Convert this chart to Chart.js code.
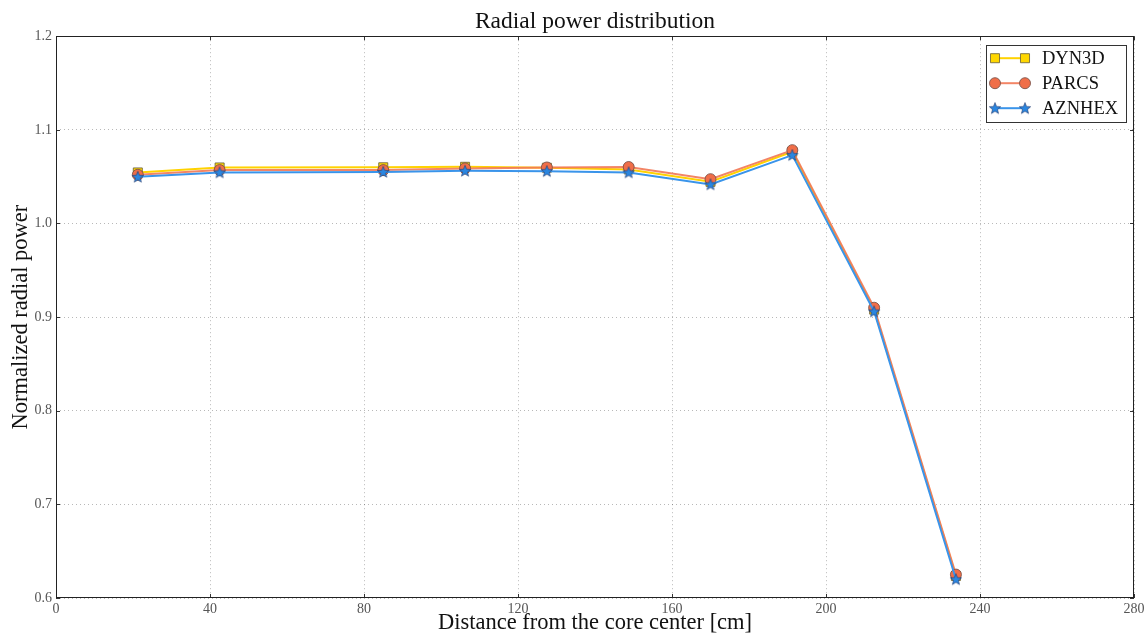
<!DOCTYPE html>
<html>
<head>
<meta charset="utf-8">
<script src="https://cdn.jsdelivr.net/npm/chart.js@4/dist/chart.umd.min.js"></script>
<style>
  html, body { margin: 0; padding: 0; background: #fff; }
  #wrap { width: 1145px; height: 634px; }
</style>
</head>
<body>
<div id="wrap"><canvas id="c" width="1145" height="634"></canvas></div>
<script>
// ---- data ----
const distances = [21.25, 42.5, 85, 106.25, 127.5, 148.75, 170, 191.25, 212.5, 233.75];
const dyn3d  = [1.0545, 1.0598, 1.0600, 1.0605, 1.0595, 1.0577, 1.0445, 1.0765, 0.908, 0.6235];
const parcs  = [1.0520, 1.0570, 1.0570, 1.0588, 1.0598, 1.0603, 1.0473, 1.0783, 0.910, 0.625];
const aznhex = [1.0498, 1.0545, 1.0550, 1.0562, 1.0559, 1.0545, 1.0417, 1.0730, 0.906, 0.620];
const seriesNames = ['DYN3D', 'PARCS', 'AZNHEX'];
const xTicks = [0, 40, 80, 120, 160, 200, 240, 280];
const yTicks = [0.6, 0.7, 0.8, 0.9, 1.0, 1.1, 1.2];

const SERIF = '"Liberation Serif", "DejaVu Serif", serif';

function makeStar(fill, edge) {
  const c = document.createElement('canvas');
  c.width = 14; c.height = 14;
  const g = c.getContext('2d');
  g.beginPath();
  const R = 6, r = 2.6, cx = 7, cy = 7.4;
  for (let i = 0; i < 10; i++) {
    const rad = (i % 2 === 0) ? R : r;
    const a = -Math.PI / 2 + i * Math.PI / 5;
    const px = cx + rad * Math.cos(a), py = cy + rad * Math.sin(a);
    if (i === 0) g.moveTo(px, py); else g.lineTo(px, py);
  }
  g.closePath();
  g.fillStyle = fill; g.fill();
  g.lineWidth = 0.8; g.strokeStyle = edge; g.stroke();
  return c;
}
const starImg = makeStar('#2A86E0', 'rgba(40,60,110,0.8)');

const styles = [
  { line: '#FFD200', fill: '#FFD700', edge: 'rgba(110,100,60,0.85)', point: 'rect', radius: 6.4 },
  { line: 'rgba(242,120,85,0.9)', fill: '#F06E48', edge: 'rgba(120,80,70,0.85)', point: 'circle', radius: 5.5 },
  { line: '#3A94EA', fill: '#2A86E0', edge: 'rgba(40,60,110,0.8)', point: starImg, radius: 6 }
];
const values = [dyn3d, parcs, aznhex];

const datasets = values.map((vals, i) => ({
  label: seriesNames[i],
  data: distances.map((x, k) => ({ x: x, y: vals[k] })),
  borderColor: styles[i].line,
  borderWidth: 2,
  backgroundColor: styles[i].fill,
  pointBackgroundColor: styles[i].fill,
  pointBorderColor: styles[i].edge,
  pointBorderWidth: 1,
  pointStyle: styles[i].point,
  pointRadius: styles[i].radius,
  pointHoverRadius: styles[i].radius,
  tension: 0,
  order: 3 - i
}));

function drawMarker(ctx, st, x, y) {
  if (st.point instanceof HTMLCanvasElement) {
    ctx.drawImage(st.point, x - st.point.width / 2, y - st.point.height / 2);
    return;
  }
  ctx.save();
  ctx.fillStyle = st.fill; ctx.strokeStyle = st.edge; ctx.lineWidth = 1;
  ctx.beginPath();
  if (st.point === 'rect') {
    const s = Math.SQRT1_2 * st.radius;
    ctx.rect(x - s, y - s, 2 * s, 2 * s);
  } else {
    ctx.arc(x, y, st.radius, 0, Math.PI * 2);
  }
  ctx.fill(); ctx.stroke();
  ctx.restore();
}

const framePlugin = {
  id: 'frame',
  afterDraw(chart) {
    const { ctx, chartArea: a, scales } = chart;
    ctx.save();
    // inward ticks
    ctx.strokeStyle = '#333'; ctx.lineWidth = 1;
    xTicks.forEach(v => {
      const px = Math.round(scales.x.getPixelForValue(v)) + 0.5;
      ctx.beginPath();
      ctx.moveTo(px, a.bottom); ctx.lineTo(px, a.bottom - 4);
      ctx.moveTo(px, a.top); ctx.lineTo(px, a.top + 4);
      ctx.stroke();
    });
    yTicks.forEach(v => {
      const py = Math.round(scales.y.getPixelForValue(v)) + 0.5;
      ctx.beginPath();
      ctx.moveTo(a.left, py); ctx.lineTo(a.left + 4, py);
      ctx.moveTo(a.right, py); ctx.lineTo(a.right - 4, py);
      ctx.stroke();
    });
    // frame
    ctx.strokeStyle = '#222'; ctx.lineWidth = 1;
    ctx.strokeRect(Math.round(a.left) + 0.5, Math.round(a.top) + 0.5,
                   Math.round(a.right - a.left) - 1, Math.round(a.bottom - a.top) - 1);
    // legend
    const bw = 140, bh = 77;
    const bx = a.right - 8 - bw, by = a.top + 9;
    ctx.fillStyle = '#fff';
    ctx.fillRect(bx, by, bw, bh);
    ctx.strokeStyle = '#333';
    ctx.strokeRect(Math.round(bx) + 0.5, Math.round(by) + 0.5, bw, bh);
    ctx.font = '18.5px ' + SERIF;
    ctx.textBaseline = 'middle';
    ctx.textAlign = 'left';
    chart.data.datasets.forEach((ds, i) => {
      const st = styles[i];
      const y = by + 13 + i * 25;
      const x0 = bx + 9, x1 = bx + 39;
      ctx.strokeStyle = st.line; ctx.lineWidth = 2;
      ctx.beginPath(); ctx.moveTo(x0, y); ctx.lineTo(x1, y); ctx.stroke();
      drawMarker(ctx, st, x0, y);
      drawMarker(ctx, st, x1, y);
      ctx.fillStyle = '#111';
      ctx.fillText(ds.label, bx + 56, y + 1);
    });
    ctx.restore();
  }
};

new Chart(document.getElementById('c'), {
  type: 'line',
  data: { datasets: datasets },
  plugins: [framePlugin],
  options: {
    responsive: false,
    animation: false,
    events: [],
    layout: { padding: { left: 0, right: 11, top: 0, bottom: 0 } },
    plugins: {
      legend: { display: false },
      tooltip: { enabled: false },
      title: {
        display: true,
        fullSize: false,
        text: 'Radial power distribution',
        color: '#111',
        font: { family: SERIF, size: 23.5, weight: 'normal', lineHeight: 1.2 },
        padding: { top: 8, bottom: 0 }
      }
    },
    scales: {
      x: {
        type: 'linear',
        min: 0, max: 280,
        afterBuildTicks: s => { s.ticks = xTicks.map(v => ({ value: v })); },
        afterFit: s => { s.height = 36; s.paddingRight = 0; s.paddingLeft = 0; },
        ticks: { color: '#555', font: { family: SERIF, size: 14 }, padding: 3 },
        grid: { color: 'rgba(0,0,0,0.28)', drawTicks: false, lineWidth: 1 },
        border: { display: false, dash: [1, 3] },
        title: {
          display: true,
          text: 'Distance from the core center [cm]',
          color: '#111',
          font: { family: SERIF, size: 22.5, lineHeight: 1 },
          padding: { top: 0, bottom: 0 }
        }
      },
      y: {
        type: 'linear',
        min: 0.6, max: 1.2,
        afterBuildTicks: s => { s.ticks = yTicks.map(v => ({ value: v })); },
        afterFit: s => { s.width = 56; s.paddingTop = 0; s.paddingBottom = 0; },
        ticks: { color: '#555', font: { family: SERIF, size: 14 }, padding: 4,
                 callback: v => v.toFixed(1) },
        grid: { color: 'rgba(0,0,0,0.28)', drawTicks: false, lineWidth: 1 },
        border: { display: false, dash: [1, 3] },
        title: {
          display: true,
          text: 'Normalized radial power',
          color: '#111',
          font: { family: SERIF, size: 22.5, lineHeight: 1 },
          padding: { top: 10, bottom: 0 }
        }
      }
    }
  }
});
</script>
</body>
</html>
